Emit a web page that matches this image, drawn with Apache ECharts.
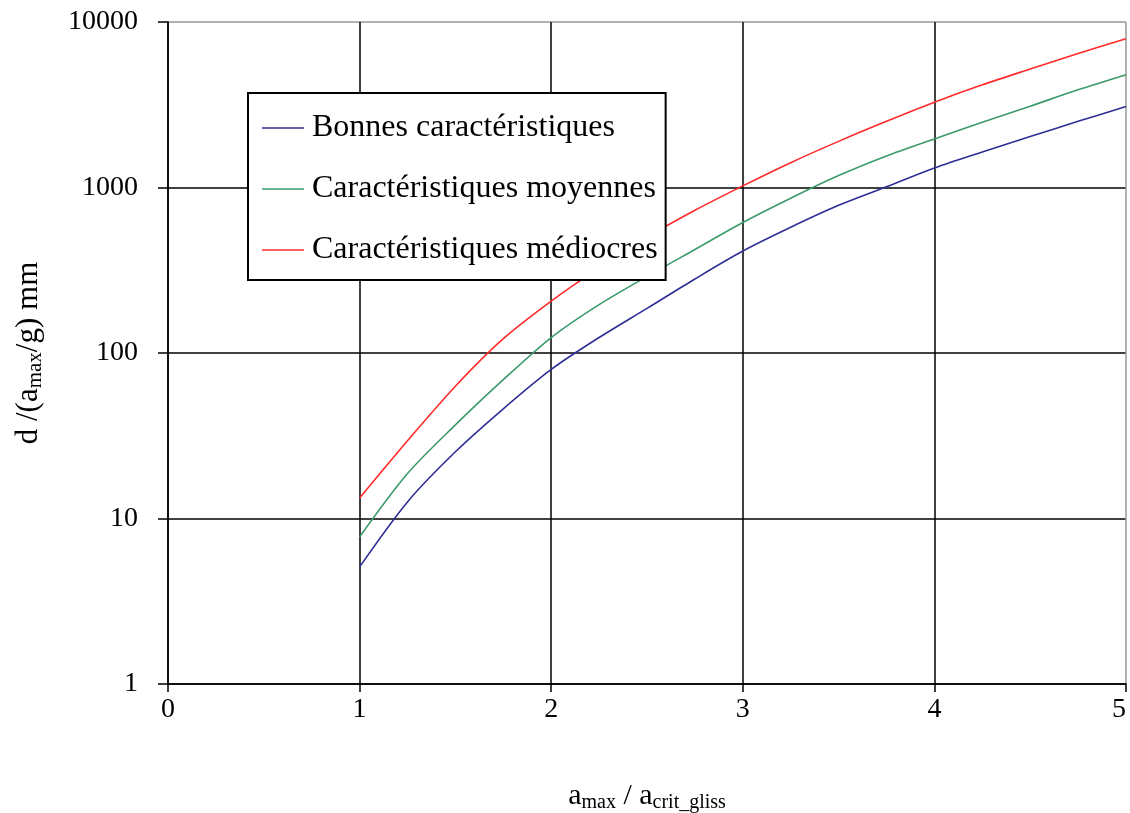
<!DOCTYPE html>
<html>
<head>
<meta charset="utf-8">
<script src="https://cdn.jsdelivr.net/npm/echarts@6/dist/echarts.min.js"></script>
<style>html,body{margin:0;padding:0;background:#fff;}#c{width:1130px;height:813px;}</style>
</head>
<body>
<div id="c"></div>
<script>
const xValues = [1, 1.25, 1.5, 1.75, 2, 2.25, 2.5, 2.75, 3, 3.25, 3.5, 3.75, 4, 4.25, 4.5, 4.75, 5];
const bonnes = [5.1, 12.6, 25.3, 46, 79.6, 124, 186, 280, 413, 575, 780, 1010, 1312, 1640, 2030, 2510, 3083];
const moyennes = [7.74, 18.7, 36.8, 69, 124, 196, 290, 422, 614, 861, 1180, 1550, 1964, 2480, 3100, 3890, 4800];
const mediocres = [13.3, 29.5, 63, 122, 206, 327, 500, 728, 1023, 1413, 1900, 2510, 3273, 4170, 5200, 6460, 7925];
const seriesNames = ['Bonnes caractéristiques', 'Caractéristiques moyennes', 'Caractéristiques médiocres'];
const seriesColors = ['#2e2e96', '#3c9a6a', '#ff2a2a'];

const font = 'Liberation Serif';
function pairs(ys) { return xValues.map((x, i) => [x, ys[i]]); }

const chart = echarts.init(document.getElementById('c'));
chart.setOption({
  backgroundColor: '#fff',
  animation: false,
  grid: { left: 168, right: 4, top: 22, bottom: 129, outerBoundsMode: 'none', containLabel: false },
  xAxis: {
    type: 'value', min: 0, max: 5, interval: 1,
    axisLine: { lineStyle: { color: '#000', width: 1.5 } },
    axisTick: { show: true, length: 8, lineStyle: { color: '#000', width: 1.5 } },
    axisLabel: { color: '#000', fontFamily: font, fontSize: 28, margin: 12, alignMaxLabel: 'right' },
    splitLine: { show: true, lineStyle: { color: ['#000','#000','#000','#000','#000','#999'], width: 1.5 } },
    name: '{m|a}{s|max}{m| / a}{s|crit_gliss}',
    nameLocation: 'middle', nameGap: 95,
    nameTextStyle: {
      fontFamily: font, color: '#000',
      rich: {
        m: { fontFamily: font, fontSize: 30, color: '#000' },
        s: { fontFamily: font, fontSize: 20, color: '#000', padding: [14, 0, 0, 0] }
      }
    }
  },
  yAxis: {
    type: 'log', logBase: 10, min: 1, max: 10000,
    axisLine: { show: true, lineStyle: { color: '#000', width: 1.5 } },
    axisTick: { show: true, length: 10, lineStyle: { color: '#000', width: 1.5 } },
    minorTick: { show: false },
    axisLabel: { color: '#000', fontFamily: font, fontSize: 28, margin: 30, formatter: v => String(Math.round(v)) },
    splitLine: { show: true, lineStyle: { color: ['#000','#000','#000','#000','#999'], width: 1.5 } },
    name: '{m|d /(a}{s|max}{m|/g) mm}',
    nameLocation: 'middle', nameRotate: 90, nameGap: 122,
    nameTextStyle: {
      fontFamily: font, color: '#000',
      rich: {
        m: { fontFamily: font, fontSize: 31, color: '#000' },
        s: { fontFamily: font, fontSize: 21, color: '#000', padding: [14, 0, 0, 0] }
      }
    }
  },
  legend: {
    orient: 'vertical', left: 248, top: 93,
    padding: [15, 8, 10, 14],
    itemWidth: 42, itemHeight: 20, itemGap: 21,
    backgroundColor: '#fff', borderColor: '#000', borderWidth: 2,
    textStyle: { fontFamily: font, fontSize: 32, color: '#000', lineHeight: 40, padding: [0, 0, 0, 3] },
    data: seriesNames.map(n => ({ name: n, icon: 'path://M0,0 L42,0 L42,1.5 L0,1.5 Z' }))
  },
  series: [bonnes, moyennes, mediocres].map((d, i) => ({
    name: seriesNames[i], type: 'line', data: pairs(d),
    symbol: 'none', smooth: 0.3,
    lineStyle: { color: seriesColors[i], width: 1.6 },
    itemStyle: { color: seriesColors[i] }
  }))
});
</script>
</body>
</html>
